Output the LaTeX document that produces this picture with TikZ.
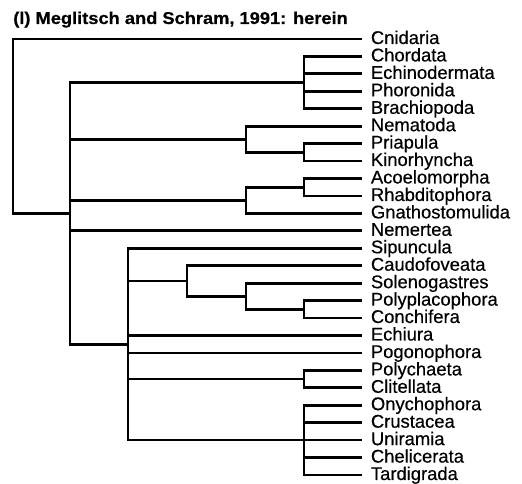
\documentclass[tikz,border=0pt]{standalone}
\usepackage{fontspec}
\setmainfont{Liberation Sans}[FakeBold=0.4]
\newfontfamily\headfont{Liberation Sans}[BoldFeatures={FakeStretch=1.07,FakeBold=0.5}]

\tikzset{
  taxon/.style={anchor=west, inner xsep=6.5pt, inner ysep=0pt, text height=10pt, text depth=2.5pt, font=\fontsize{13.8}{14}\selectfont},
  branch/.style={line width=2.1pt}
}

\begin{document}
\begin{tikzpicture}[x=0.75pt,y=-0.75pt]
\useasboundingbox (0,0) rectangle (522,484);

\node[anchor=base west, inner sep=0pt, font=\headfont\bfseries\fontsize{12.8}{14}\selectfont] (title) at (13,24) {(l) Meglitsch and Schram, 1991: herein};

\node[taxon] (cni) at (362,39.0) {Cnidaria};
\node[taxon] (cho) at (362,56.4) {Chordata};
\node[taxon] (ech) at (362,73.9) {Echinodermata};
\node[taxon] (pho) at (362,91.3) {Phoronida};
\node[taxon] (bra) at (362,108.8) {Brachiopoda};
\node[taxon] (nma) at (362,126.2) {Nematoda};
\node[taxon] (pri) at (362,143.6) {Priapula};
\node[taxon] (kin) at (362,161.0) {Kinorhyncha};
\node[taxon] (aco) at (362,178.5) {Acoelomorpha};
\node[taxon] (rha) at (362,196.0) {Rhabditophora};
\node[taxon] (gna) at (362,213.4) {Gnathostomulida};
\node[taxon] (nmt) at (362,230.8) {Nemertea};
\node[taxon] (sip) at (362,248.3) {Sipuncula};
\node[taxon] (cau) at (362,265.7) {Caudofoveata};
\node[taxon] (sol) at (362,283.2) {Solenogastres};
\node[taxon] (pol) at (362,300.6) {Polyplacophora};
\node[taxon] (con) at (362,318.0) {Conchifera};
\node[taxon] (ecu) at (362,335.5) {Echiura};
\node[taxon] (pog) at (362,353.0) {Pogonophora};
\node[taxon] (pch) at (362,370.4) {Polychaeta};
\node[taxon] (cli) at (362,387.8) {Clitellata};
\node[taxon] (ony) at (362,405.2) {Onychophora};
\node[taxon] (cru) at (362,422.7) {Crustacea};
\node[taxon] (uni) at (362,440.1) {Uniramia};
\node[taxon] (che) at (362,457.6) {Chelicerata};
\node[taxon] (tar) at (362,475.0) {Tardigrada};

\coordinate (root) at (13,126.2);
\coordinate (bil) at (70,213.4);
\coordinate (deu) at (304,82.6);
\coordinate (cyc) at (246,139.2);
\coordinate (scal) at (304,152.3);
\coordinate (pla) at (246,200.3);
\coordinate (plat) at (304,187.2);
\coordinate (pro) at (128,344.2);
\coordinate (mol) at (187,281.0);
\coordinate (mol2) at (246,296.2);
\coordinate (mol3) at (304,309.3);
\coordinate (ann) at (304,379.1);
\coordinate (art) at (304,440.1);

\draw[branch] (root) |- (cni.west) (root) |- (bil);
\draw[branch] (bil) |- (deu) (bil) |- (cyc) (bil) |- (pla) (bil) |- (nmt.west) (bil) |- (pro);
\draw[branch] (deu) |- (cho.west) (deu) |- (ech.west) (deu) |- (pho.west) (deu) |- (bra.west);
\draw[branch] (cyc) |- (nma.west) (cyc) |- (scal);
\draw[branch] (scal) |- (pri.west) (scal) |- (kin.west);
\draw[branch] (pla) |- (plat) (pla) |- (gna.west);
\draw[branch] (plat) |- (aco.west) (plat) |- (rha.west);
\draw[branch] (pro) |- (sip.west) (pro) |- (mol) (pro) |- (ecu.west) (pro) |- (pog.west) (pro) |- (ann) (pro) |- (art);
\draw[branch] (mol) |- (cau.west) (mol) |- (mol2);
\draw[branch] (mol2) |- (sol.west) (mol2) |- (mol3);
\draw[branch] (mol3) |- (pol.west) (mol3) |- (con.west);
\draw[branch] (ann) |- (pch.west) (ann) |- (cli.west);
\draw[branch] (art) |- (ony.west) (art) |- (cru.west) (art) |- (uni.west) (art) |- (che.west) (art) |- (tar.west);
\end{tikzpicture}
\end{document}
